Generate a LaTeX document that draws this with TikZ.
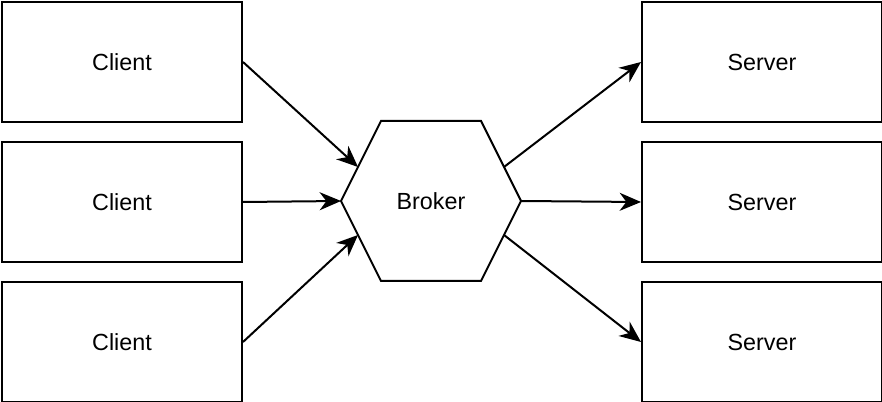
\documentclass[tikz,border=0pt]{standalone}
\usepackage{fontspec}
\setmainfont{Liberation Sans}
\usetikzlibrary{arrows.meta}
\begin{document}
\begin{tikzpicture}[x=0.75pt,y=-0.75pt,
  box/.style={draw,line width=1.5pt,minimum width=240*0.75pt,minimum height=120*0.75pt,anchor=north west,inner sep=0pt,font=\fontsize{17.5pt}{21pt}\selectfont},
  conn/.style={line width=1.5pt,-{Stealth[length=16pt,width=13.5pt,inset=5pt]}},
  lbl/.style={font=\fontsize{17.5pt}{21pt}\selectfont}]
\useasboundingbox (0,0) rectangle (882,402);
\node[box] (c1) at (1,1) {Client};
\node[box] (c2) at (1,141) {Client};
\node[box] (c3) at (1,281) {Client};
\node[box] (s1) at (641,1) {Server};
\node[box] (s2) at (641,141) {Server};
\node[box] (s3) at (641,281) {Server};
\draw[line width=1.5pt,line join=miter] (341,201) -- (381,121) -- (481,121) -- (521,201) -- (481,281) -- (381,281) -- cycle;
\node[lbl] (b) at (431,201) {Broker};
\coordinate (bl) at (341,201);
\coordinate (br) at (521,201);
\coordinate (blu) at (358,167);
\coordinate (bld) at (358,235);
\coordinate (bru) at (504,167);
\coordinate (brd) at (504,235);
\draw[conn] (c1.east) -- (blu);
\draw[conn] (c2.east) -- (bl);
\draw[conn] (c3.east) -- (bld);
\draw[conn] (bru) -- (s1.west);
\draw[conn] (br) -- (s2.west);
\draw[conn] (brd) -- (s3.west);
\end{tikzpicture}
\end{document}
